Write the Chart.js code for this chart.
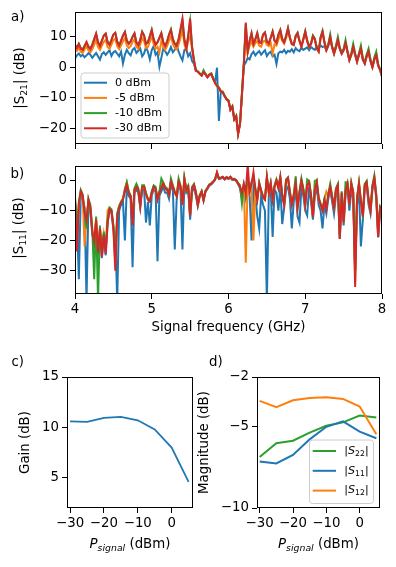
<!DOCTYPE html>
<html>
<head>
<meta charset="utf-8">
<script src="https://cdn.jsdelivr.net/npm/chart.js@4.4.1/dist/chart.umd.min.js"></script>
<style>
  html, body { margin: 0; padding: 0; background: #fff; }
  body { width: 396px; height: 567px; position: relative; overflow: hidden; }
  canvas { position: absolute; }
</style>
</head>
<body>
<canvas id="chartA" width="396" height="160" style="left:0;top:0"></canvas>
<canvas id="chartB" width="396" height="190" style="left:0;top:155px"></canvas>
<canvas id="chartC" width="200" height="222" style="left:0;top:345px"></canvas>
<canvas id="chartD" width="200" height="222" style="left:196px;top:345px"></canvas>
<script>
// Frequência do sinal (GHz)
const freqGHz = [
  4, 4.025, 4.05, 4.075, 4.1, 4.125, 4.15, 4.175,
  4.2, 4.225, 4.25, 4.275, 4.3, 4.325, 4.35, 4.375,
  4.4, 4.425, 4.45, 4.475, 4.5, 4.525, 4.55, 4.575,
  4.6, 4.625, 4.65, 4.675, 4.7, 4.725, 4.75, 4.775,
  4.8, 4.825, 4.85, 4.875, 4.9, 4.925, 4.95, 4.975,
  5, 5.025, 5.05, 5.075, 5.1, 5.125, 5.15, 5.175,
  5.2, 5.225, 5.25, 5.275, 5.3, 5.325, 5.35, 5.375,
  5.4, 5.425, 5.45, 5.475, 5.5, 5.525, 5.55, 5.575,
  5.6, 5.625, 5.65, 5.675, 5.7, 5.725, 5.75, 5.775,
  5.8, 5.825, 5.85, 5.875, 5.9, 5.925, 5.95, 5.975,
  6, 6.025, 6.05, 6.075, 6.1, 6.125, 6.15, 6.175,
  6.2, 6.225, 6.25, 6.275, 6.3, 6.325, 6.35, 6.375,
  6.4, 6.425, 6.45, 6.475, 6.5, 6.525, 6.55, 6.575,
  6.6, 6.625, 6.65, 6.675, 6.7, 6.725, 6.75, 6.775,
  6.8, 6.825, 6.85, 6.875, 6.9, 6.925, 6.95, 6.975,
  7, 7.025, 7.05, 7.075, 7.1, 7.125, 7.15, 7.175,
  7.2, 7.225, 7.25, 7.275, 7.3, 7.325, 7.35, 7.375,
  7.4, 7.425, 7.45, 7.475, 7.5, 7.525, 7.55, 7.575,
  7.6, 7.625, 7.65, 7.675, 7.7, 7.725, 7.75, 7.775,
  7.8, 7.825, 7.85, 7.875, 7.9, 7.925, 7.95, 7.975,
  8
];

// |S21| (dB) para cada potência
const s21_0dBm = [
  2.8, 3.8, 4.4, 3.5, 4.0, 3.2, 3.8, 4.5,
  4.0, 3.0, 3.8, 4.6, 3.5, 2.4, 4.2, 4.8,
  4.0, 4.8, 5.5, 3.6, 4.8, 5.2, 4.4, 3.5,
  5.0, 1.2, 4.0, 5.6, 4.5, 3.8, 5.6, 6.2,
  4.6, 5.3, 6.0, 3.5, 4.4, 6.5, 5.0, 2.5,
  5.5, 6.8, 4.0, 4.8, 0.1, 3.0, 6.0, 5.2,
  4.0, 5.0, 6.5, 4.8, 5.6, 7.2, 5.0, 3.5,
  2.2, 5.5, 6.0, 3.5, 4.5, 2.0, 1.0, -1.2,
  -1.5, -2.2, -2.8, -1.6, -2.4, -3.3, -2.5, -2.2,
  -3.8, -5.0, -0.2, -17.5, -8.0, -8.2, -9.5, -10.5,
  -11.0, -13.9, -12.9, -17.0, -16.0, -21.6, -18.5, -9.0,
  0.5, 1.5, 3.0, 2.5, 4.2, 5.0, 3.8, 4.6,
  5.2, 4.0, 4.8, 5.5, 3.6, 4.5, 5.0, 3.5,
  4.0, 1.0, 4.5, 5.0, 4.8, 5.6, 4.5, 5.3,
  5.0, 5.8, 4.8, 6.2, 5.5, 5.2, 6.3, 5.6,
  6.0, 6.4, 5.5, 6.5, 6.0, 5.6, 6.8, 6.2,
  7.0, 6.5, 6.8, 5.4, 6.9, 9.5, 6.4, 4.3,
  6.4, 8.6, 5.9, 4.3, 5.4, 7.6, 4.9, 2.2,
  3.9, 6.4, 3.9, 1.7, 3.9, 5.8, 2.4, 1.1,
  3.4, 4.8, 1.9, -0.1, 2.4, 3.7, 0.4, -1.0,
  -3.1
];
const s21_m5dBm = [
  6.0, 5.2, 6.3, 5.0, 4.6, 5.8, 6.8, 5.4,
  4.8, 5.8, 7.2, 8.8, 6.5, 5.6, 7.0, 8.2,
  8.8, 6.5, 6.0, 7.3, 8.8, 9.2, 6.8, 5.8,
  7.0, 8.4, 9.4, 7.1, 6.2, 6.8, 8.2, 9.0,
  6.6, 5.9, 7.3, 9.4, 8.4, 6.2, 6.6, 8.3,
  10.0, 7.5, 6.0, 6.6, 4.7, 8.5, 6.6, 5.6,
  6.8, 8.6, 10.0, 7.5, 6.2, 5.8, 7.4, 9.5,
  12.0, 7.5, 5.5, 8.5, 10.0, 6.0, 2.0, -1.2,
  -1.4, -2.1, -2.7, -1.5, -2.3, -3.2, -2.4, -2.1,
  -3.7, -5.1, -6.1, -6.7, -7.9, -8.1, -9.4, -10.4,
  -10.9, -13.8, -12.8, -16.9, -15.9, -21.6, -18.4, -8.8,
  1.0, 12.0, 4.5, 7.0, 8.3, 6.6, 7.8, 8.5,
  7.0, 6.6, 8.3, 8.6, 7.2, 6.8, 7.8, 4.4,
  7.4, 7.0, 9.0, 10.5, 8.5, 7.6, 9.4, 11.8,
  9.3, 7.4, 7.1, 9.8, 10.8, 8.4, 6.6, 8.9,
  11.3, 8.4, 6.5, 7.4, 9.9, 8.9, 6.0, 5.0,
  9.4, 11.3, 7.9, 5.5, 7.0, 9.7, 6.4, 4.4,
  6.4, 8.7, 5.9, 4.4, 5.5, 7.7, 5.0, 2.3,
  4.0, 6.5, 4.0, 1.8, 4.0, 5.9, 2.5, 1.2,
  3.5, 4.9, 2.0, 0.0, 2.5, 3.8, 0.5, -0.9,
  -3.0
];
const s21_m10dBm = [
  7.2, 6.5, 7.6, 6.2, 5.8, 7.0, 8.0, 6.8,
  5.9, 7.3, 9.2, 10.8, 8.2, 7.0, 8.7, 10.3,
  10.8, 8.2, 7.3, 8.9, 10.6, 11.2, 8.3, 7.1,
  8.6, 10.3, 11.4, 8.7, 7.6, 8.4, 9.9, 11.0,
  8.1, 7.2, 8.9, 11.5, 10.3, 7.6, 8.1, 10.1,
  12.2, 9.1, 7.4, 8.1, 9.6, 11.1, 8.1, 6.9,
  8.4, 10.6, 12.3, 9.2, 7.6, 7.1, 9.1, 12.0,
  15.0, 9.0, 6.5, 10.2, 15.0, 6.8, 2.5, -1.0,
  -1.4, -2.0, -2.6, -1.0, -2.2, -3.1, -2.4, -2.0,
  -3.6, -5.0, -5.9, -6.6, -7.8, -8.0, -9.3, -10.3,
  -10.8, -13.7, -12.7, -16.8, -15.8, -21.5, -18.3, -8.5,
  1.5, 14.0, 5.2, 8.6, 11.0, 7.6, 9.1, 11.1,
  8.2, 8.0, 10.6, 11.3, 8.4, 7.8, 9.6, 11.6,
  8.7, 8.0, 10.6, 12.1, 9.2, 8.2, 10.2, 12.7,
  9.7, 7.7, 7.4, 10.2, 11.2, 8.7, 6.8, 9.2,
  11.7, 8.7, 6.8, 7.7, 10.3, 9.3, 6.2, 5.3,
  9.8, 11.8, 8.3, 5.8, 7.4, 10.6, 6.8, 4.7,
  7.0, 9.8, 6.4, 4.7, 6.0, 8.8, 5.4, 2.6,
  4.6, 7.6, 4.5, 2.1, 4.6, 7.0, 3.0, 1.5,
  4.1, 6.0, 2.5, 0.3, 3.2, 5.0, 1.0, -0.6,
  -2.6
];
const s21_m30dBm = [
  7.0, 6.2, 7.5, 6.0, 5.5, 6.8, 8.2, 6.5,
  5.8, 7.2, 9.0, 10.9, 8.0, 6.8, 8.5, 10.2,
  10.9, 8.0, 7.2, 8.8, 10.5, 11.1, 8.2, 7.0,
  8.5, 10.2, 11.4, 8.6, 7.5, 8.3, 9.8, 10.9,
  8.0, 7.0, 8.8, 11.4, 10.2, 7.5, 8.0, 10.0,
  12.0, 9.0, 7.2, 8.0, 9.5, 10.9, 8.0, 6.8,
  8.3, 10.5, 12.0, 9.0, 7.5, 7.0, 9.0, 12.5,
  15.8, 9.0, 6.0, 10.0, 15.8, 6.5, 2.0, -1.2,
  -1.5, -2.2, -2.8, -1.6, -2.4, -3.3, -2.5, -2.2,
  -3.8, -5.2, -6.2, -6.8, -8.0, -8.2, -9.5, -10.5,
  -11.0, -13.9, -12.9, -17.0, -16.0, -21.8, -18.5, -9.0,
  1.0, 14.5, 5.0, 8.5, 11.0, 7.5, 9.0, 11.0,
  8.0, 7.8, 10.5, 11.2, 8.2, 7.6, 9.5, 11.5,
  8.5, 7.8, 10.5, 12.0, 9.0, 8.0, 10.0, 12.6,
  9.5, 7.5, 7.2, 10.0, 11.0, 8.5, 6.6, 9.0,
  11.5, 8.5, 6.6, 7.5, 10.0, 9.0, 6.0, 5.0,
  9.5, 11.5, 8.0, 5.5, 7.0, 9.8, 6.5, 4.4,
  6.5, 8.8, 6.0, 4.4, 5.5, 7.8, 5.0, 2.3,
  4.0, 6.6, 4.0, 1.8, 4.0, 6.0, 2.5, 1.2,
  3.5, 5.0, 2.0, 0.0, 2.5, 3.9, 0.5, -0.9,
  -3.0
];

// |S11| (dB) para cada potência
const s11_0dBm = [
  -7.0, -12.0, -33.0, -5.0, -6.0, -9.0, -40.0, -8.0,
  -10.0, -18.0, -21.0, -14.0, -25.0, -17.0, -26.0, -19.0,
  -25.0, -14.0, -10.0, -10.5, -16.0, -18.0, -40.0, -10.0,
  -8.0, -7.0, -20.0, -2.0, -5.0, -6.0, -29.0, -4.0,
  -3.0, -4.0, -9.0, -3.0, -3.0, -14.0, -7.0, -15.0,
  -5.0, -3.0, -3.5, -27.0, -5.0, -3.5, -2.0, -4.0,
  -4.0, -6.0, -1.5, -3.0, -23.0, -6.0, -1.5, -3.0,
  -23.0, -1.0, -4.0, -3.0, -13.0, -3.5, -2.5, -5.0,
  -8.5, -5.2, -3.8, -6.7, -3.7, -2.7, -1.6, -1.2,
  -0.5, 0.3, 2.6, 0.6, 0.8, 1.1, 0.4, 1.0,
  0.6, 1.1, 0.3, 0.4, 0.0, -1.1, -2.5, -6.0,
  -3.0, -6.0, -1.0, -5.0, -20.0, -2.0, -5.0, -12.0,
  -16.0, -5.0, -8.0, -10.0, -40.0, -5.0, -3.0, -18.8,
  -3.0, -4.0, -10.0, -2.0, -14.5, -9.0, -3.0, -2.0,
  -6.0, -16.0, -7.0, -3.0, -12.0, -14.0, -2.0, -5.0,
  -10.0, -11.6, -2.0, -7.0, -13.0, -5.0, -2.0, -8.0,
  -10.0, -16.0, -8.0, -11.0, -6.0, -3.0, -7.0, -11.0,
  -5.0, -3.0, -19.5, -6.0, -15.0, -5.0, -2.0, -10.0,
  -3.0, -6.0, -30.0, -8.0, -3.0, -22.0, -13.0, -3.0,
  -1.5, -8.0, -11.0, -3.0, 0.0, -6.0, -19.0, -10.0,
  -11.0
];
const s11_m5dBm = [
  -6.0, -18.0, -9.0, -4.0, -5.0, -22.0, -12.0, -7.0,
  -9.0, -17.0, -19.0, -13.0, -22.0, -16.0, -24.0, -18.0,
  -23.0, -10.0, -9.0, -10.0, -15.0, -28.0, -11.0, -8.5,
  -7.0, -6.0, -2.5, -0.5, -4.0, -5.0, -14.0, -3.0,
  -1.5, -3.0, -8.2, -2.0, -2.0, -4.3, -6.2, -6.8,
  -4.0, -2.0, -2.5, -6.2, -4.0, -1.0, -0.8, -2.5,
  -3.0, -4.5, -0.3, -2.0, -4.0, -5.0, -0.3, -2.0,
  -8.0, 0.7, -3.0, -2.0, -11.5, -2.5, -1.4, -4.0,
  -8.0, -4.9, -3.5, -6.4, -3.4, -2.4, -1.3, -0.9,
  -0.3, 0.5, 2.8, 0.8, 1.0, 1.3, 0.6, 1.2,
  0.8, 1.3, 0.5, 0.6, 0.2, -0.8, -1.8, -5.0,
  -1.0, -27.5, 0.0, -4.0, -2.0, -20.0, -3.0, -6.5,
  -1.0, -3.5, -5.5, -6.3, 1.0, -4.0, -1.0, -6.3,
  -2.0, 0.0, -2.5, 1.0, -5.0, -8.0, 0.0, 0.8,
  -4.0, -8.0, -5.0, -1.0, -9.0, -4.0, 0.0, -3.0,
  -8.0, -1.5, -0.5, -5.0, -12.0, -3.0, -0.5, -6.0,
  -8.0, -10.0, -6.5, -3.6, -5.0, -2.0, -5.5, -9.0,
  -3.0, -1.5, -19.0, -4.0, -14.0, -3.5, -1.0, -8.0,
  -1.0, -4.0, -34.0, -6.0, -1.0, -7.0, -12.0, -1.5,
  -0.5, -6.5, -10.0, -2.0, 1.0, -5.0, -18.5, -9.0,
  -10.0
];
const s11_m10dBm = [
  -5.0, -20.0, -7.0, -3.0, -4.5, -10.0, -16.0, -6.0,
  -8.0, -16.0, -33.0, -12.0, -40.0, -15.0, -24.0, -17.0,
  -23.0, -13.0, -9.0, -9.5, -15.0, -26.0, -11.0, -8.5,
  -7.0, -6.0, -3.0, -0.5, -3.5, -5.0, -13.0, -2.5,
  -1.0, -2.5, -8.0, -1.5, -1.5, -4.0, -6.0, -6.5,
  -3.5, -1.5, -2.0, -6.0, -3.5, 0.8, -0.5, -2.0,
  -2.5, -4.0, 0.8, -1.5, -3.5, -5.0, 0.8, -1.5,
  -7.5, 1.2, -2.5, -1.5, -11.0, -2.0, -1.0, -3.5,
  -7.8, -4.8, -3.4, -6.2, -3.3, -2.3, -1.2, -0.8,
  -0.2, 0.6, 2.7, 0.9, 1.1, 1.4, 0.7, 1.3,
  0.9, 1.4, 0.6, 0.7, 0.3, -0.7, -1.5, -7.5,
  -1.0, -3.5, 0.5, -3.0, -0.5, 1.5, -2.5, -6.0,
  -0.5, -3.0, -5.0, -6.0, 1.5, -3.5, -0.5, -6.0,
  -1.5, 0.5, -2.0, 1.5, -4.5, -7.5, 0.5, 1.2,
  -3.5, -7.5, -4.5, 1.5, -8.5, -3.5, 0.8, -2.5,
  -7.5, 0.5, 0.0, -4.5, -11.5, 0.0, 0.3, -5.5,
  -7.5, -9.5, -6.0, -9.0, -4.5, -1.0, -5.0, -8.5,
  -2.5, -1.0, -18.0, -3.5, -13.0, -0.5, -0.5, -7.5,
  -0.5, -3.5, -30.0, -5.5, -0.5, -6.5, -11.0, -1.0,
  0.0, -6.0, -9.5, -1.5, 1.8, -4.5, -17.0, -8.5,
  -9.5
];
const s11_m30dBm = [
  -6.0, -23.7, -8.0, -3.5, -5.0, -11.0, -13.3, -6.3,
  -9.0, -17.0, -20.4, -13.0, -24.0, -16.0, -25.5, -18.0,
  -24.5, -14.0, -9.6, -10.0, -16.0, -30.2, -12.0, -9.0,
  -7.4, -6.3, -3.5, -1.4, -4.0, -5.2, -15.0, -3.0,
  -2.0, -3.0, -8.4, -2.2, -2.0, -4.5, -6.3, -7.0,
  -4.0, -2.0, -2.6, -6.3, -4.0, -2.5, -0.9, -2.6,
  -3.0, -4.6, -0.3, -2.0, -4.0, -5.2, -0.3, -2.0,
  -8.1, 0.7, -3.0, -2.0, -11.7, -2.5, -1.4, -4.0,
  -8.1, -5.0, -3.6, -6.5, -3.5, -2.5, -1.4, -1.0,
  -0.3, 0.5, 2.9, 0.8, 1.0, 1.3, 0.6, 1.2,
  0.8, 1.3, 0.5, 0.6, 0.2, -0.9, -2.0, -4.0,
  -1.0, -4.0, 5.5, -3.5, -1.0, 2.9, -3.0, -6.3,
  -0.9, -3.5, -5.5, -6.3, 1.3, -4.0, -0.9, -6.3,
  -2.0, 0.2, -2.5, 1.3, -5.0, -8.1, 0.2, 1.0,
  -4.0, -8.1, -5.0, -1.0, -9.2, -4.0, 0.0, -3.0,
  -8.0, -1.5, -0.5, -5.0, -12.1, -3.0, -0.5, -6.0,
  -8.0, -10.0, -6.5, -9.5, -5.0, -2.0, -5.5, -9.0,
  -3.0, -1.5, -19.5, -4.0, -14.0, -3.5, -1.0, -8.0,
  -1.0, -4.0, -35.6, -6.0, -1.0, -7.0, -12.0, -1.5,
  -0.5, -6.5, -10.0, -2.0, 1.0, -5.0, -18.8, -9.0,
  -10.0
];

// Potência do sinal (dBm) e ganho / magnitudes
const pSignal = [-30, -25, -20, -15, -10, -5, 0, 5];
const gainDb = [10.6, 10.55, 10.95, 11.05, 10.7, 9.8, 8.0, 4.6];
const s22Mag = [-6.88, -6.05, -5.89, -5.4, -4.98, -4.77, -4.35, -4.47];
const s11Mag = [-7.16, -7.28, -6.76, -5.81, -5.04, -4.71, -5.34, -5.74];
const s12Mag = [-3.46, -3.84, -3.42, -3.28, -3.23, -3.34, -3.8, -5.5];

// Marcas dos eixos
const freqTicks = [4, 5, 6, 7, 8];
const s21Ticks = [-20, -10, 0, 10];
const s11Ticks = [-30, -20, -10, 0];
const pTicks = [-30, -20, -10, 0];
const gainTicks = [5, 10, 15];
const magTicks = [-10, -5, -2];

const FONT = 'DejaVu Sans';
const FS = 13.33;
const BLUE = '#1f77b4', ORANGE = '#ff7f0e', GREEN = '#2ca02c', RED = '#d62728';

const pontos = (xs, ys) => xs.map((x, i) => ({ x: x, y: ys[i] }));
const menos = v => String(v).replace('-', '\u2212');

// Texto com subscrito: $..$ = itálico, _{..} = subscrito
function parseRich(s) {
  const parts = [];
  let italic = false, sub = false, buf = '';
  const push = () => { if (buf) parts.push({ t: buf, italic: italic, sub: sub }); buf = ''; };
  for (let i = 0; i < s.length; i++) {
    const c = s[i];
    if (c === '$') { push(); italic = !italic; }
    else if (c === '_' && s[i + 1] === '{') { push(); sub = true; i++; }
    else if (c === '}' && sub) { push(); sub = false; }
    else buf += c;
  }
  push();
  return parts;
}

function drawRich(ctx, s, x, y, size, align, angle) {
  const parts = parseRich(s);
  const fontOf = p => (p.italic ? 'italic ' : '') + (p.sub ? size * 0.7 : size) + 'px "' + FONT + '"';
  let w = 0;
  parts.forEach(p => { ctx.font = fontOf(p); p.w = ctx.measureText(p.t).width; w += p.w; });
  ctx.save();
  ctx.translate(x, y);
  if (angle) ctx.rotate(angle);
  ctx.fillStyle = '#000';
  ctx.textBaseline = 'middle';
  ctx.textAlign = 'left';
  let cx = align === 'center' ? -w / 2 : 0;
  parts.forEach(p => {
    ctx.font = fontOf(p);
    ctx.fillText(p.t, cx, p.sub ? size * 0.25 : 0);
    cx += p.w;
  });
  ctx.restore();
}

// Moldura em volta da área do gráfico
const moldura = {
  id: 'moldura',
  afterDatasetsDraw(chart) {
    const a = chart.chartArea, ctx = chart.ctx;
    ctx.save();
    ctx.strokeStyle = '#000';
    ctx.lineWidth = 1;
    ctx.strokeRect(Math.round(a.left) + 0.5, Math.round(a.top) + 0.5,
      Math.round(a.right - a.left) - 1, Math.round(a.bottom - a.top) - 1);
    ctx.restore();
  }
};

function textos(items) {
  return {
    id: 'textos',
    afterDraw(chart) {
      items.forEach(it => drawRich(chart.ctx, it.s, it.x, it.y, it.size || FS, it.align || 'center', it.angle || 0));
    }
  };
}

function legenda(cfg) {
  return {
    id: 'legenda',
    afterDraw(chart) {
      const ctx = chart.ctx;
      ctx.save();
      const r = 3, x = cfg.x, y = cfg.y, w = cfg.w, h = cfg.h;
      ctx.beginPath();
      ctx.moveTo(x + r, y);
      ctx.arcTo(x + w, y, x + w, y + h, r);
      ctx.arcTo(x + w, y + h, x, y + h, r);
      ctx.arcTo(x, y + h, x, y, r);
      ctx.arcTo(x, y, x + w, y, r);
      ctx.closePath();
      ctx.fillStyle = 'rgba(255,255,255,0.8)';
      ctx.fill();
      ctx.strokeStyle = '#cccccc';
      ctx.lineWidth = 1;
      ctx.stroke();
      chart.data.datasets.forEach((ds, i) => {
        const ry = cfg.row0 + i * cfg.step;
        ctx.strokeStyle = ds.borderColor;
        ctx.lineWidth = 2;
        ctx.beginPath();
        ctx.moveTo(cfg.lx0, ry);
        ctx.lineTo(cfg.lx1, ry);
        ctx.stroke();
        drawRich(ctx, ds.label, cfg.tx, ry, cfg.size, 'left', 0);
      });
      ctx.restore();
    }
  };
}

function eixo(min, max, ticks, fit, labels) {
  return {
    type: 'linear',
    min: min,
    max: max,
    grid: { drawOnChartArea: false, drawTicks: true, tickLength: 5, tickColor: '#000', color: '#000', lineWidth: 1 },
    border: { display: false },
    ticks: {
      display: labels,
      color: '#000',
      font: { family: FONT, size: FS },
      padding: 3,
      maxRotation: 0,
      autoSkip: false,
      callback: v => menos(v)
    },
    afterBuildTicks: s => { s.ticks = ticks.map(v => ({ value: v })); },
    afterFit: s => { if (s.isHorizontal()) s.height = fit; else s.width = fit; }
  };
}

function serie(label, color, xs, ys, order, width) {
  return {
    label: label,
    data: pontos(xs, ys),
    borderColor: color,
    backgroundColor: color,
    borderWidth: width || 2,
    pointRadius: 0,
    tension: 0,
    fill: false,
    order: order
  };
}

const baseOpts = (padding, scales) => ({
  responsive: false,
  animation: false,
  events: [],
  layout: { padding: padding },
  plugins: { legend: { display: false }, tooltip: { enabled: false } },
  scales: scales
});

// a) |S21| x frequência
new Chart(document.getElementById('chartA'), {
  type: 'line',
  data: {
    datasets: [
      serie('0 dBm', BLUE, freqGHz, s21_0dBm, 4),
      serie('-5 dBm', ORANGE, freqGHz, s21_m5dBm, 3),
      serie('-10 dBm', GREEN, freqGHz, s21_m10dBm, 2),
      serie('-30 dBm', RED, freqGHz, s21_m30dBm, 1)
    ]
  },
  options: baseOpts({ left: 0, right: 14, top: 12, bottom: 0 }, {
    x: eixo(4, 8, freqTicks, 16, false),
    y: eixo(-25, 17.9, s21Ticks, 75, true)
  }),
  plugins: [moldura,
    textos([
      { s: 'a)', x: 11, y: 18, align: 'left' },
      { s: '|S_{21}| (dB)', x: 21, y: 78, angle: -Math.PI / 2 }
    ]),
    legenda({ x: 81, y: 73, w: 88, h: 65, row0: 82.7, step: 15.2, lx0: 84, lx1: 107, tx: 115, size: 11.1 })
  ]
});

// b) |S11| x frequência
new Chart(document.getElementById('chartB'), {
  type: 'line',
  data: {
    datasets: [
      serie('0 dBm', BLUE, freqGHz, s11_0dBm, 4),
      serie('-5 dBm', ORANGE, freqGHz, s11_m5dBm, 3),
      serie('-10 dBm', GREEN, freqGHz, s11_m10dBm, 2),
      serie('-30 dBm', RED, freqGHz, s11_m30dBm, 1)
    ]
  },
  options: baseOpts({ left: 0, right: 14, top: 7, bottom: 0 }, {
    x: eixo(4, 8, freqTicks, 51, true),
    y: eixo(-38, 5, s11Ticks, 75, true)
  }),
  plugins: [moldura,
    textos([
      { s: 'b)', x: 10.5, y: 19.5, align: 'left' },
      { s: '|S_{11}| (dB)', x: 20, y: 73, angle: -Math.PI / 2 },
      { s: 'Signal frequency (GHz)', x: 228.5, y: 173 }
    ])
  ]
});

// c) Ganho x potência do sinal
new Chart(document.getElementById('chartC'), {
  type: 'line',
  data: { datasets: [serie('Gain', BLUE, pSignal, gainDb, 1, 1.8)] },
  options: baseOpts({ left: 0, right: 7, top: 32, bottom: 0 }, {
    x: eixo(-30.9, 6.3, pTicks, 59, true),
    y: eixo(2, 15, gainTicks, 67, true)
  }),
  plugins: [moldura,
    textos([
      { s: 'c)', x: 11.5, y: 17.5, align: 'left' },
      { s: 'Gain (dB)', x: 26, y: 97.5, angle: -Math.PI / 2 },
      { s: '$P$_{$signal$} (dBm)', x: 130, y: 200 }
    ])
  ]
});

// d) Magnitudes x potência do sinal
new Chart(document.getElementById('chartD'), {
  type: 'line',
  data: {
    datasets: [
      serie('|$S$_{22}|', GREEN, pSignal, s22Mag, 3),
      serie('|$S$_{11}|', BLUE, pSignal, s11Mag, 2),
      serie('|$S$_{12}|', ORANGE, pSignal, s12Mag, 1)
    ]
  },
  options: baseOpts({ left: 0, right: 16, top: 32, bottom: 0 }, {
    x: eixo(-30.8, 6.1, pTicks, 59, true),
    y: eixo(-10, -2, magTicks, 61, true)
  }),
  plugins: [moldura,
    textos([
      { s: 'd)', x: 13, y: 17.5, align: 'left' },
      { s: 'Magnitude (dB)', x: 9, y: 97.5, angle: -Math.PI / 2 },
      { s: '$P$_{$signal$} (dBm)', x: 122.5, y: 200 }
    ]),
    legenda({ x: 113.5, y: 95, w: 64, h: 63.5, row0: 106, step: 19.8, lx0: 116.7, lx1: 140, tx: 148.3, size: 11.1 })
  ]
});
</script>
</body>
</html>
